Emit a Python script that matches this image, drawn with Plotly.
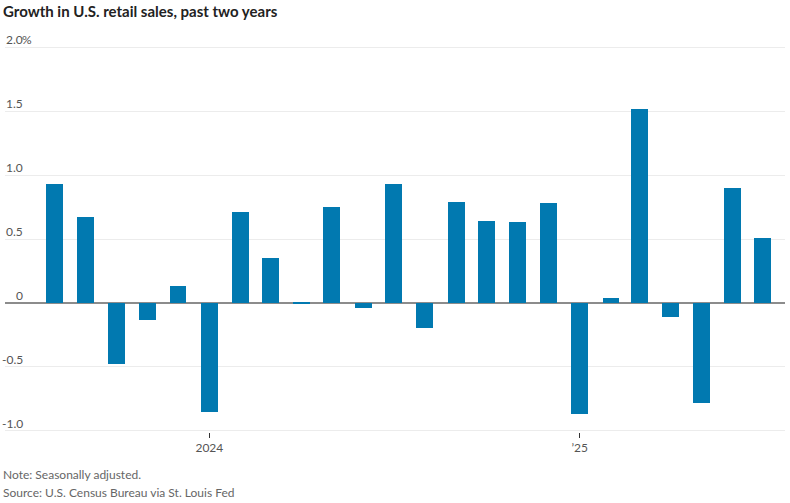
import plotly.graph_objects as go

months = ["2023-08-01", "2023-09-01", "2023-10-01", "2023-11-01", "2023-12-01",
          "2024-01-01", "2024-02-01", "2024-03-01", "2024-04-01", "2024-05-01",
          "2024-06-01", "2024-07-01", "2024-08-01", "2024-09-01", "2024-10-01",
          "2024-11-01", "2024-12-01", "2025-01-01", "2025-02-01", "2025-03-01",
          "2025-04-01", "2025-05-01", "2025-06-01", "2025-07-01"]
growth = [0.93, 0.67, -0.48, -0.13, 0.13,
          -0.85, 0.71, 0.35, -0.01, 0.75,
          -0.04, 0.93, -0.20, 0.79, 0.64,
          0.635, 0.78, -0.87, 0.04, 1.52,
          -0.11, -0.78, 0.90, 0.51]

y_tickvals = [2.0, 1.5, 1.0, 0.5, 0, -0.5, -1.0]
y_ticktext = ["2.0", "1.5", "1.0", "0.5", "0", "-0.5", "-1.0"]
y_unit = "%"
x_tickvals = ["2024-01-01", "2025-01-01"]
x_ticktext = ["2024", "\u201925"]

title = "Growth in U.S. retail sales, past two years"
note = "Note: Seasonally adjusted."
source = "Source: U.S. Census Bureau via St. Louis Fed"

bar_width_ms = 0.55 * 30.44 * 86400000

fig = go.Figure(go.Bar(
    x=months, y=growth,
    width=[bar_width_ms] * len(months),
    marker=dict(color="#0179b0", line=dict(width=0)),
))

fig.update_layout(
    width=790, height=503,
    margin=dict(l=5, r=5, t=46, b=71, autoexpand=False),
    paper_bgcolor="white", plot_bgcolor="white",
    font=dict(family="Lato, Roboto, sans-serif", color="#555"),
    showlegend=False,
    bargap=0,
)

fig.update_xaxes(
    type="date",
    range=["2023-06-13", "2025-07-23"],
    tickvals=x_tickvals, ticktext=x_ticktext,
    ticks="outside", ticklen=5, tickcolor="#333", tickwidth=1,
    showgrid=False, showline=False, zeroline=False,
    tickfont=dict(size=12, color="#555"),
    automargin=False,
)

fig.update_yaxes(
    range=[-1.01, 2.01],
    tickvals=y_tickvals,
    showticklabels=False,
    showgrid=True, gridcolor="#ececec", gridwidth=1,
    zeroline=True, zerolinecolor="#8c8c8c", zerolinewidth=2,
    showline=False, ticks="",
    automargin=False,
)

label_right_px = 24
for i, (v, t) in enumerate(zip(y_tickvals, y_ticktext)):
    fig.add_annotation(text=t, xref="paper", yref="y", x=0, y=v,
                       xanchor="right", yanchor="bottom",
                       xshift=label_right_px - 5 + 1, yshift=-2,
                       showarrow=False, font=dict(size=12, color="#555"))
    if i == 0:
        fig.add_annotation(text=y_unit, xref="paper", yref="y", x=0, y=v,
                           xanchor="left", yanchor="bottom",
                           xshift=label_right_px - 5 - 4, yshift=-2,
                           showarrow=False, font=dict(size=12, color="#555"))

fig.add_annotation(text="<b>" + title + "</b>", xref="paper", yref="paper",
                   x=-0.005, y=1.0, yshift=46, xanchor="left", yanchor="top",
                   showarrow=False, font=dict(size=15, color="#222", family="Lato, sans-serif"))
fig.add_annotation(text=note, xref="paper", yref="paper",
                   x=-0.005, y=0, yshift=-33, xanchor="left", yanchor="top",
                   showarrow=False, font=dict(size=12, color="#666"))
fig.add_annotation(text=source, xref="paper", yref="paper",
                   x=-0.005, y=0, yshift=-51, xanchor="left", yanchor="top",
                   showarrow=False, font=dict(size=12, color="#666"))

fig.write_html("out.html", config={"displayModeBar": False},
               post_script="document.body.style.margin='0';")
